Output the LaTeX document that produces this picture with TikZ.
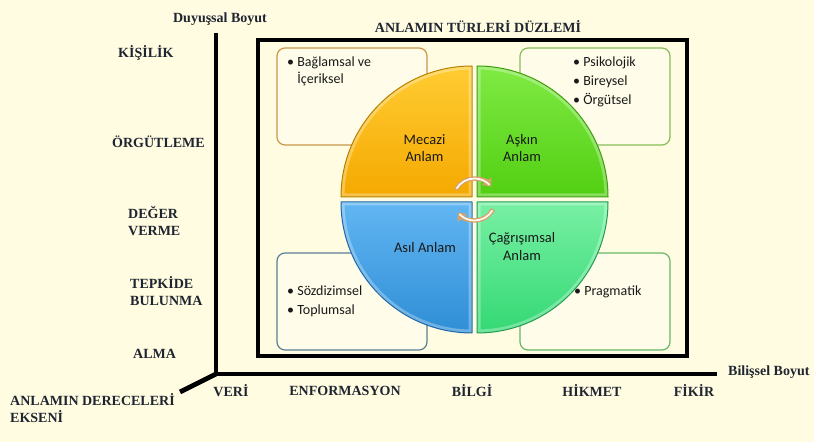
\documentclass[tikz,border=0pt]{standalone}
\usepackage{fontspec}
\setmainfont{Liberation Serif}
\newfontfamily\carl{Carlito}
\usetikzlibrary{arrows.meta}
\definecolor{bg}{HTML}{FFFCE2}
\definecolor{labc}{HTML}{1F2530}
\definecolor{boxfill}{HTML}{FFFDEA}
\definecolor{oTop}{HTML}{FFCC33}
\definecolor{oBot}{HTML}{F5A900}
\definecolor{oBrd}{HTML}{B98000}
\definecolor{gTop}{HTML}{80EA44}
\definecolor{gBot}{HTML}{52CF12}
\definecolor{gBrd}{HTML}{3E9E10}
\definecolor{bTop}{HTML}{62B6F2}
\definecolor{bBot}{HTML}{2F8ED6}
\definecolor{bBrd}{HTML}{1F69A8}
\definecolor{mTop}{HTML}{78F0A4}
\definecolor{mBot}{HTML}{34D874}
\definecolor{mBrd}{HTML}{1F9E50}
\definecolor{arrc}{HTML}{D6A266}
\definecolor{tlB}{HTML}{C9974A}
\definecolor{trB}{HTML}{86BE5A}
\definecolor{blB}{HTML}{5B7F95}
\definecolor{brB}{HTML}{66B866}
\newcommand\quadr[7]{%
  \shade[top color=#5,bottom color=#6] #1 -- #2 arc[start angle=#3,end angle=#4,radius=131] -- cycle;
  \begin{scope}
    \clip #1 -- #2 arc[start angle=#3,end angle=#4,radius=131] -- cycle;
    \draw[white,opacity=.3,line width=7pt] #1 -- #2 arc[start angle=#3,end angle=#4,radius=131] -- cycle;
  \end{scope}
  \draw[#7,line width=1pt,line join=round] #1 -- #2 arc[start angle=#3,end angle=#4,radius=131] -- cycle;
}
\begin{document}
\begin{tikzpicture}[x=1pt,y=1pt,
  lab/.style={font=\fontsize{14}{17}\selectfont\bfseries, text=labc, inner sep=0pt, align=left},
  axis/.style={line width=4.8pt, black},
  infobox/.style={draw=#1, fill=boxfill, rounded corners=8pt, line width=1.2pt, minimum width=150, minimum height=97, inner sep=0pt},
  boxtext/.style={font=\carl\fontsize{14}{19}\selectfont, text=black!90, inner sep=0pt, align=left, anchor=base west},
  qtext/.style={font=\carl\fontsize{14.5}{17.5}\selectfont, text=black!90, inner sep=0pt, align=center},
  cyc/.style={line width=4.4pt, arrc},
  cycin/.style={line width=1.8pt, white!92!arrc}]
\fill[bg] (0,0) rectangle (814,442);
\useasboundingbox (0,0) rectangle (814,442);

% axes
\coordinate (O) at (216,68);
\coordinate (Ytop) at (216,409);
\coordinate (Xend) at (717,68);
\coordinate (Zend) at (180,50);
\draw[axis, line join=miter] (Ytop) -- (O) -- (Xend);
\draw[axis] (O) -- (Zend);

% frame
\node[draw, line width=4.5pt, minimum width=429, minimum height=316, inner sep=0pt] (frame) at (472.5,244) {};

% titles
\node[lab] (title) at (478,415) {ANLAMIN TÜRLERİ DÜZLEMİ};
\node[lab] (duy) at (220,423) {Duyuşsal Boyut};
\node[lab, anchor=west] (bil) at (728,70) {Bilişsel Boyut};

% vertical axis labels
\node[lab, anchor=west] (kis) at (118,389) {KİŞİLİK};
\node[lab, anchor=west] (org) at (112,300) {ÖRGÜTLEME};
\node[lab, anchor=west] (deg) at (128,221) {DEĞER\\VERME};
\node[lab, anchor=west] (tep) at (130,151) {TEPKİDE\\BULUNMA};
\node[lab, anchor=west] (alm) at (133,88) {ALMA};
\node[lab, anchor=west] (eks) at (10,34) {ANLAMIN DERECELERİ\\EKSENİ};

% horizontal axis labels
\node[lab] (veri) at (231,51) {VERİ};
\node[lab] (enf) at (345,51) {ENFORMASYON};
\node[lab] (bilg) at (472,51) {BİLGİ};
\node[lab] (hik) at (592,51) {HİKMET};
\node[lab] (fik) at (694,51) {FİKİR};

% info boxes
\node[infobox=tlB] (btl) at (352,345.5) {};
\node[infobox=trB] (btr) at (595,345.5) {};
\node[infobox=blB] (bbl) at (352,140.5) {};
\node[infobox=brB] (bbr) at (595,140.5) {};

% (base anchor of a multi-line node = baseline of its last line)
\node[boxtext, font=\carl\fontsize{14}{17}\selectfont] (ttl) at (287,358) {• Bağlamsal ve\\\hphantom{• }İçeriksel};
\node[boxtext] (ttr) at (573,337) {• Psikolojik\\• Bireysel\\• Örgütsel};
\node[boxtext] (tbl) at (287,127) {• Sözdizimsel\\• Toplumsal};
\node[boxtext] (tbr) at (574,146) {• Pragmatik};

% quadrants
\quadr{(472,245)}{(341,245)}{180}{90}{oTop}{oBot}{oBrd}
\quadr{(477,245)}{(477,376)}{90}{0}{gTop}{gBot}{gBrd}
\quadr{(472,240)}{(472,109)}{270}{180}{bTop}{bBot}{bBrd}
\quadr{(477,240)}{(608,240)}{0}{-90}{mTop}{mBot}{mBrd}

\node[qtext] (mec) at (424.5,294) {Mecazi\\Anlam};
\node[qtext] (ask) at (522,294) {Aşkın\\Anlam};
\node[qtext] (asl) at (425,194) {Asıl Anlam};
\node[qtext] (cag) at (522,195.5) {Çağrışımsal\\Anlam};

% cycle arrows
\coordinate (C) at (474.5,242.5);
\draw[cyc, -{Triangle[length=7pt,width=12pt]}] (C) ++(152:21) arc[start angle=152,end angle=38,radius=21];
\draw[cycin] (C) ++(149:21) arc[start angle=149,end angle=44,radius=21];
\draw[cyc, -{Triangle[length=7pt,width=12pt]}] (C) ++(-28:21) arc[start angle=-28,end angle=-142,radius=21];
\draw[cycin] (C) ++(-31:21) arc[start angle=-31,end angle=-136,radius=21];
\end{tikzpicture}
\end{document}
